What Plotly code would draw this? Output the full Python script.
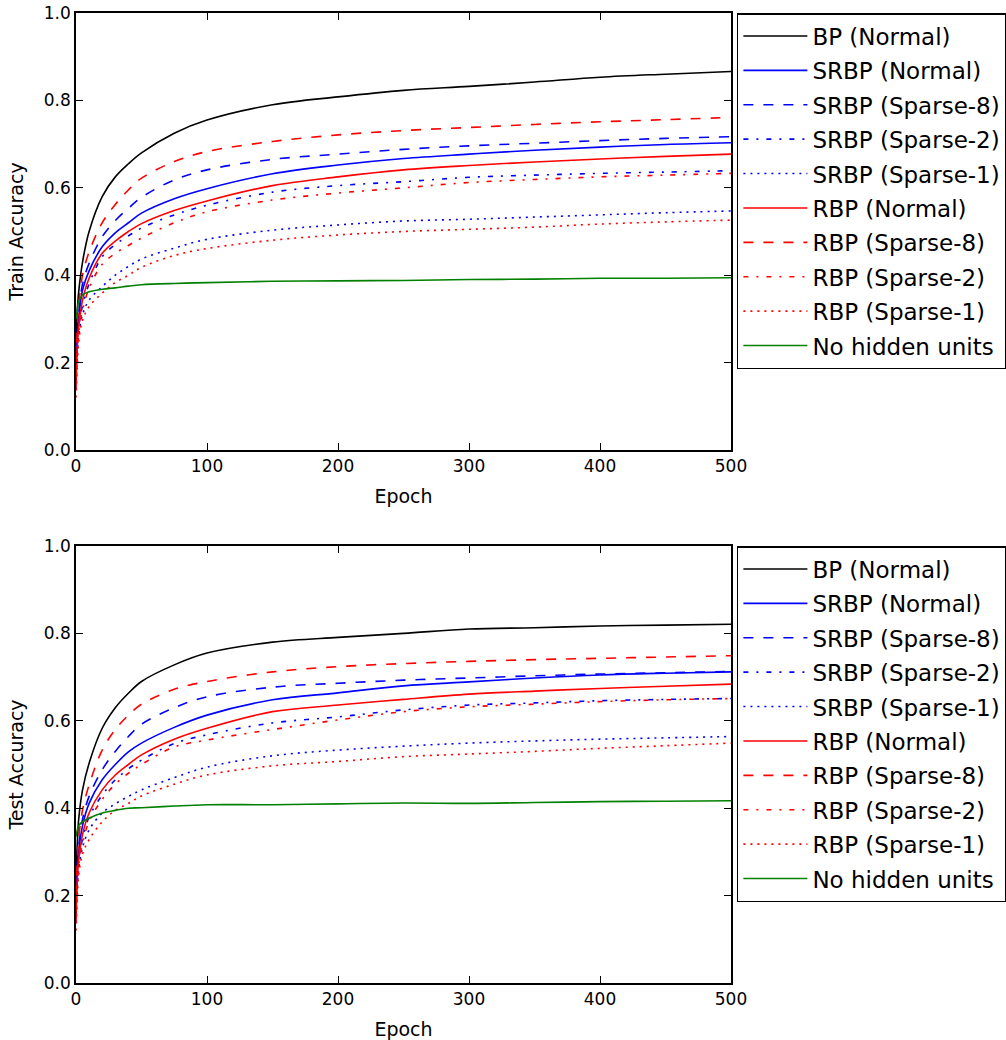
import plotly.graph_objects as go

epochs = [0, 1, 2, 5, 10, 20, 30, 40, 50, 75, 100, 150, 200, 250, 300, 350, 400, 450, 500]

series_names = ["BP (Normal)", "SRBP (Normal)", "SRBP (Sparse-8)", "SRBP (Sparse-2)", "SRBP (Sparse-1)",
                "RBP (Normal)", "RBP (Sparse-8)", "RBP (Sparse-2)", "RBP (Sparse-1)", "No hidden units"]

# Train accuracy
train_bp_normal = [0.25, 0.32, 0.36, 0.43, 0.50, 0.58, 0.625, 0.655, 0.68, 0.725, 0.755, 0.79, 0.808, 0.823, 0.832, 0.842, 0.853, 0.860, 0.866]
train_srbp_normal = [0.18, 0.26, 0.30, 0.366, 0.41, 0.465, 0.497, 0.52, 0.542, 0.575, 0.598, 0.632, 0.652, 0.667, 0.677, 0.686, 0.693, 0.699, 0.703]
train_srbp_s8 = [0.18, 0.27, 0.31, 0.38, 0.427, 0.488, 0.525, 0.553, 0.578, 0.618, 0.641, 0.665, 0.677, 0.688, 0.696, 0.702, 0.708, 0.713, 0.717]
train_srbp_s2 = [0.16, 0.24, 0.28, 0.33, 0.38, 0.442, 0.47, 0.49, 0.508, 0.538, 0.56, 0.59, 0.605, 0.614, 0.624, 0.629, 0.633, 0.636, 0.639]
train_srbp_s1 = [0.14, 0.22, 0.26, 0.31, 0.343, 0.374, 0.40, 0.42, 0.437, 0.462, 0.482, 0.503, 0.515, 0.524, 0.528, 0.533, 0.538, 0.543, 0.547]
train_rbp_normal = [0.15, 0.24, 0.28, 0.343, 0.393, 0.45, 0.478, 0.50, 0.518, 0.548, 0.57, 0.605, 0.625, 0.641, 0.651, 0.659, 0.666, 0.672, 0.677]
train_rbp_s8 = [0.20, 0.28, 0.33, 0.40, 0.453, 0.52, 0.562, 0.595, 0.622, 0.66, 0.683, 0.706, 0.721, 0.731, 0.738, 0.745, 0.751, 0.756, 0.761]
train_rbp_s2 = [0.14, 0.23, 0.27, 0.32, 0.37, 0.425, 0.45, 0.468, 0.485, 0.52, 0.545, 0.572, 0.588, 0.60, 0.612, 0.619, 0.625, 0.629, 0.633]
train_rbp_s1 = [0.12, 0.19, 0.245, 0.297, 0.328, 0.359, 0.383, 0.40, 0.418, 0.445, 0.461, 0.48, 0.492, 0.50, 0.505, 0.51, 0.517, 0.522, 0.526]
train_no_hidden = [0.30, 0.32, 0.34, 0.355, 0.362, 0.368, 0.371, 0.375, 0.378, 0.381, 0.383, 0.386, 0.387, 0.388, 0.39, 0.391, 0.393, 0.393, 0.394]

# Test accuracy
test_bp_normal = [0.26, 0.32, 0.373, 0.442, 0.503, 0.583, 0.63, 0.663, 0.69, 0.728, 0.755, 0.78, 0.791, 0.80, 0.81, 0.813, 0.817, 0.819, 0.821]
test_srbp_normal = [0.18, 0.26, 0.30, 0.36, 0.411, 0.465, 0.50, 0.529, 0.549, 0.585, 0.613, 0.648, 0.664, 0.68, 0.689, 0.698, 0.705, 0.709, 0.712]
test_srbp_s8 = [0.18, 0.27, 0.31, 0.375, 0.427, 0.488, 0.53, 0.564, 0.592, 0.63, 0.655, 0.677, 0.686, 0.693, 0.698, 0.703, 0.707, 0.71, 0.713]
test_srbp_s2 = [0.16, 0.24, 0.28, 0.33, 0.38, 0.43, 0.465, 0.49, 0.51, 0.548, 0.568, 0.595, 0.609, 0.625, 0.636, 0.641, 0.646, 0.649, 0.651]
test_srbp_s1 = [0.14, 0.22, 0.26, 0.31, 0.35, 0.389, 0.41, 0.427, 0.442, 0.47, 0.494, 0.52, 0.533, 0.542, 0.549, 0.554, 0.558, 0.561, 0.564]
test_rbp_normal = [0.15, 0.24, 0.28, 0.34, 0.389, 0.442, 0.476, 0.50, 0.522, 0.558, 0.583, 0.621, 0.636, 0.649, 0.661, 0.668, 0.674, 0.679, 0.684]
test_rbp_s8 = [0.20, 0.28, 0.33, 0.396, 0.453, 0.533, 0.58, 0.613, 0.638, 0.672, 0.69, 0.712, 0.724, 0.731, 0.736, 0.74, 0.743, 0.746, 0.749]
test_rbp_s2 = [0.14, 0.23, 0.27, 0.32, 0.37, 0.42, 0.455, 0.48, 0.50, 0.54, 0.556, 0.58, 0.602, 0.621, 0.632, 0.638, 0.644, 0.648, 0.651]
test_rbp_s1 = [0.12, 0.19, 0.245, 0.295, 0.328, 0.369, 0.395, 0.411, 0.428, 0.455, 0.476, 0.497, 0.507, 0.518, 0.524, 0.53, 0.537, 0.543, 0.549]
test_no_hidden = [0.335, 0.35, 0.36, 0.369, 0.377, 0.389, 0.395, 0.40, 0.401, 0.405, 0.408, 0.408, 0.41, 0.412, 0.411, 0.413, 0.415, 0.416, 0.417]

x_ticks = [0, 100, 200, 300, 400, 500]
y_ticks = [0.0, 0.2, 0.4, 0.6, 0.8, 1.0]
y_tick_labels = ["0.0", "0.2", "0.4", "0.6", "0.8", "1.0"]

BLACK, BLUE, RED, GREEN = "#000000", "#0000ff", "#ff0000", "#008000"
SOLID, DASH, DASHDOT, DOT = "solid", "10px,10px", "5px,8px,2px,8px", "2px,5px"
styles = [(BLACK, SOLID), (BLUE, SOLID), (BLUE, DASH), (BLUE, DASHDOT), (BLUE, DOT),
          (RED, SOLID), (RED, DASH), (RED, DASHDOT), (RED, DOT), (GREEN, SOLID)]

train = [train_bp_normal, train_srbp_normal, train_srbp_s8, train_srbp_s2, train_srbp_s1,
         train_rbp_normal, train_rbp_s8, train_rbp_s2, train_rbp_s1, train_no_hidden]
test = [test_bp_normal, test_srbp_normal, test_srbp_s8, test_srbp_s2, test_srbp_s1,
        test_rbp_normal, test_rbp_s8, test_rbp_s2, test_rbp_s1, test_no_hidden]

FONT = "DejaVu Sans"
fig = go.Figure()
for i, (name, ys) in enumerate(zip(series_names, train)):
    c, d = styles[i]
    fig.add_trace(go.Scatter(x=epochs, y=ys, mode="lines", name=name,
                             line=dict(color=c, dash=d, width=1.6, shape="spline", smoothing=1.0),
                             xaxis="x", yaxis="y", legend="legend", legendgroup="tr%d" % i))
for i, (name, ys) in enumerate(zip(series_names, test)):
    c, d = styles[i]
    fig.add_trace(go.Scatter(x=epochs, y=ys, mode="lines", name=name,
                             line=dict(color=c, dash=d, width=1.6, shape="spline", smoothing=1.0),
                             xaxis="x2", yaxis="y2", legend="legend2", legendgroup="te%d" % i))

axis_common = dict(showgrid=False, zeroline=False, showline=True, linecolor="black", linewidth=1.5,
                   mirror="allticks", ticks="inside", ticklen=7, tickwidth=1, tickcolor="black",
                   automargin=False, tickfont=dict(family=FONT, size=17, color="black"))

legend_common = dict(xanchor="left", yanchor="top", bordercolor="black", borderwidth=1.5,
                     bgcolor="white", font=dict(family=FONT, size=23, color="black"),
                     itemwidth=64, tracegroupgap=1.5)

fig.update_layout(
    width=1006, height=1040,
    margin=dict(l=76, r=275, t=13, b=57, autoexpand=False),
    paper_bgcolor="white", plot_bgcolor="white",
    font=dict(family=FONT, color="black"),
    xaxis=dict(domain=[0, 1], range=[0, 500], tickvals=x_ticks, anchor="y",
               title=dict(text="Epoch", font=dict(size=19)), **axis_common),
    yaxis=dict(domain=[0.5495, 1], range=[0, 1], tickvals=y_ticks, ticktext=y_tick_labels, anchor="x",
               title=dict(text="Train Accuracy", font=dict(size=19)), **axis_common),
    xaxis2=dict(domain=[0, 1], range=[0, 500], tickvals=x_ticks, anchor="y2",
                title=dict(text="Epoch", font=dict(size=19)), **axis_common),
    yaxis2=dict(domain=[0, 0.4505], range=[0, 1], tickvals=y_ticks, ticktext=y_tick_labels, anchor="x2",
                title=dict(text="Test Accuracy", font=dict(size=19)), **axis_common),
    legend=dict(x=1.009, y=1.0, **legend_common),
    legend2=dict(x=1.009, y=0.4505, **legend_common),
    showlegend=True,
)

fig.write_html("out.html", config={"displayModeBar": False},
               post_script="document.body.style.margin='0';document.body.style.padding='0';")
